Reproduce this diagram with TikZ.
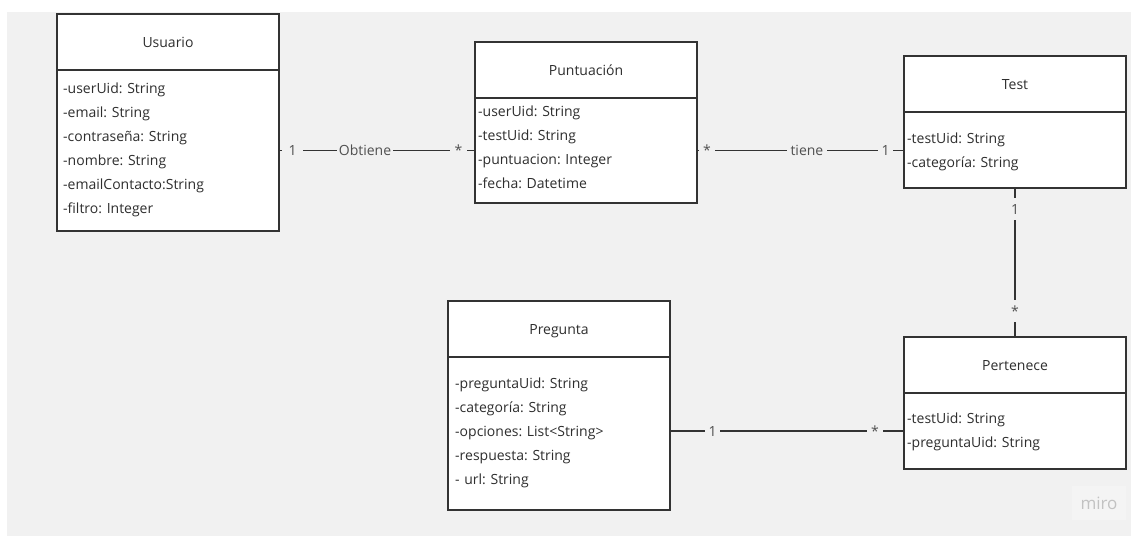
\documentclass[tikz,border=0pt]{standalone}
\usepackage{fontspec}
\setmainfont{Open Sans}
\usetikzlibrary{calc}
\frenchspacing
\definecolor{bg}{HTML}{F1F1F1}
\definecolor{linec}{HTML}{333333}
\definecolor{txt}{HTML}{2E2E2E}
\definecolor{lbltxt}{HTML}{505050}
\definecolor{mirotxt}{HTML}{C2C2C2}
\definecolor{mirobg}{HTML}{F4F4F4}
\tikzset{
  hdr/.style={draw=linec, line width=1.6pt, fill=white, minimum width=222pt,
    minimum height=56pt, inner sep=0pt, outer sep=0pt, anchor=north west,
    font=\fontsize{14}{17}\selectfont, text=txt, text height=10pt, text depth=0pt},
  bdy/.style={draw=linec, line width=1.6pt, fill=white, minimum width=222pt,
    inner sep=0pt, outer sep=0pt, anchor=north west},
  attr/.style={anchor=base west, inner sep=0pt, text width=212pt, align=left,
    font=\fontsize{14}{24}\selectfont\frenchspacing, text=txt},
  conn/.style={draw=linec, line width=1.4pt},
  lbl/.style={fill=bg, inner sep=0pt, minimum height=14pt,
    font=\fontsize{14}{17}\selectfont, text=lbltxt},
}
\begin{document}
\begin{tikzpicture}[x=1pt, y=-1pt]
\useasboundingbox (0,0) rectangle (1131,536);
\fill[bg] (7,12) rectangle (1131,536);

% Usuario
\node[hdr] (usrH) at (57,14) {Usuario};
\node[bdy, minimum height=161pt] (usrB) at (usrH.south west) {};
\node[attr] (usrA) at ($(usrB.north west)+(6,23)$) {-userUid: String\\-email: String\\-contraseña: String\\-nombre: String\\-emailContacto:String\\-filtro: Integer};

% Puntuacion
\node[hdr] (punH) at (475,42) {Puntuación};
\node[bdy, minimum height=105pt] (punB) at (punH.south west) {};
\node[attr] (punA) at ($(punB.north west)+(3,18)$) {-userUid: String\\-testUid: String\\-puntuacion: Integer\\-fecha: Datetime};

% Test
\node[hdr] (tstH) at (904,56) {Test};
\node[bdy, minimum height=76pt] (tstB) at (tstH.south west) {};
\node[attr] (tstA) at ($(tstB.north west)+(3,31)$) {-testUid: String\\-categoría: String};

% Pertenece
\node[hdr] (perH) at (904,337) {Pertenece};
\node[bdy, minimum height=76pt] (perB) at (perH.south west) {};
\node[attr] (perA) at ($(perB.north west)+(3,30)$) {-testUid: String\\-preguntaUid: String};

% Pregunta
\node[hdr] (preH) at (448,301) {Pregunta};
\node[bdy, minimum height=153pt] (preB) at (preH.south west) {};
\node[attr] (preA) at ($(preB.north west)+(7,31)$) {-preguntaUid: String\\-categoría: String\\-opciones: List<String>\\-respuesta: String\\- url: String};

% Connectors
\draw[conn] (punB.west -| usrB.east) -- (punB.west)
  node[lbl, minimum width=21pt, pos=0.069] (l1) {1\hspace{11pt}}
  node[lbl, minimum width=56pt, pos=0.439] (l2) {Obtiene}
  node[lbl, minimum width=17pt, pos=0.916] (l3) {*};

\draw[conn] (punB.east) -- (punB.east -| tstB.west)
  node[lbl, minimum width=16pt, pos=0.048] (l4) {*}
  node[lbl, minimum width=40pt, pos=0.531] (l5) {tiene}
  node[lbl, minimum width=15pt, pos=0.911] (l6) {1};

\draw[conn] (tstB.south) -- (perH.north)
  node[lbl, minimum height=22pt, pos=0.141] (l7) {1}
  node[lbl, minimum height=22pt, pos=0.826] (l8) {*};

\draw[conn] (perB.west -| preB.east) -- (perB.west)
  node[lbl, minimum width=15pt, pos=0.182] (l9) {1}
  node[lbl, minimum width=16pt, pos=0.876] (l10) {*};

% miro mark
\node[fill=mirobg, text=mirotxt, minimum width=54pt, minimum height=34pt, inner sep=0pt,
  font=\fontsize{17}{20}\selectfont] (miro) at (1099,503) {miro};
\end{tikzpicture}
\end{document}
